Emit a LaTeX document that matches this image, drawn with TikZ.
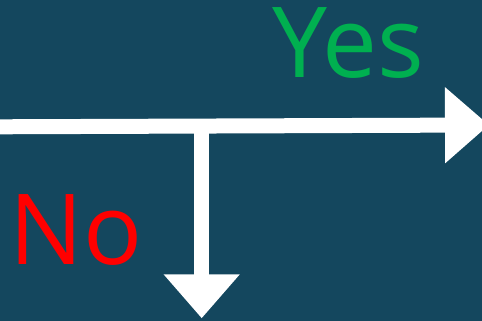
\documentclass[tikz,border=0pt]{standalone}
\usepackage{fontspec}
\setmainfont{Open Sans}
\usetikzlibrary{arrows.meta}
\definecolor{bgteal}{RGB}{20,71,94}
\definecolor{yesgreen}{RGB}{0,176,80}
\definecolor{nored}{RGB}{255,0,0}
\begin{document}
\begin{tikzpicture}[x=1pt,y=1pt,
  flow/.style={draw=white,line width=15pt,-{Triangle[width=73.4pt,length=44pt]},fill=white},
  lbl/.style={inner sep=0pt,anchor=base west,font=\fontsize{98}{100}\selectfont}]
  \useasboundingbox (0,0) rectangle (482,321);
  \clip (0,0) rectangle (482,321);
  \fill[bgteal] (0,0) rectangle (482,321);
  \coordinate (start) at (0,194.2);
  \coordinate (right) at (489,196);
  \coordinate (branch) at (201.7,195.5);
  \coordinate (down) at (201.7,2.7);
  \draw[flow] (start) -- (right);
  \draw[flow] (branch) -- (down);
  \node[lbl,text=yesgreen] (yes) at (272,243) {Yes};
  \node[lbl,text=nored] (no) at (9,56) {No};
\end{tikzpicture}
\end{document}
